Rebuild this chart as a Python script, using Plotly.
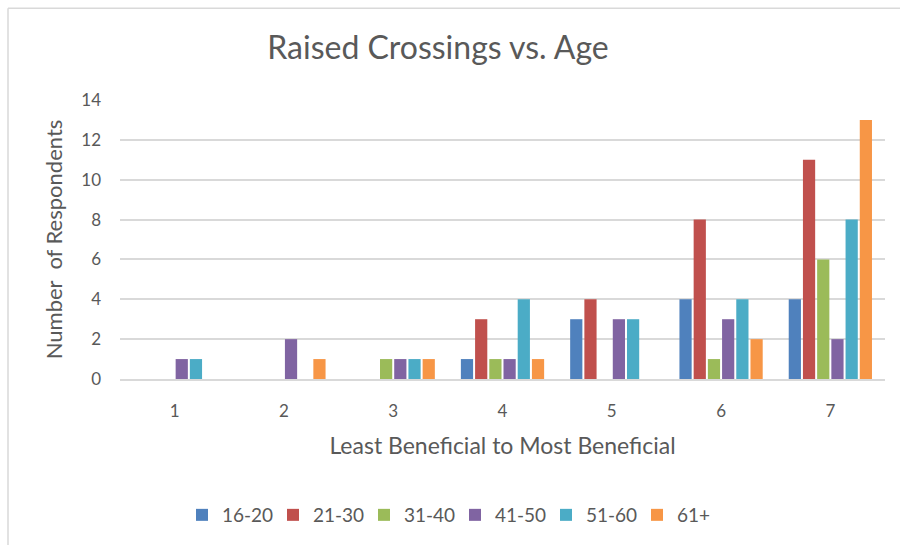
import plotly.graph_objects as go

# Rating scale (1 = least beneficial, 7 = most beneficial)
ratings = ["1", "2", "3", "4", "5", "6", "7"]

# Respondent counts per age group for each rating
age_16_20 = [0, 0, 0, 1, 3, 4, 4]
age_21_30 = [0, 0, 0, 3, 4, 8, 11]
age_31_40 = [0, 0, 1, 1, 0, 1, 6]
age_41_50 = [1, 2, 1, 1, 3, 3, 2]
age_51_60 = [1, 0, 1, 4, 3, 4, 8]
age_61_plus = [0, 1, 1, 1, 0, 2, 13]

series = [
    ("16-20", age_16_20, "#4F81BD"),
    ("21-30", age_21_30, "#C0504D"),
    ("31-40", age_31_40, "#9BBB59"),
    ("41-50", age_41_50, "#8064A2"),
    ("51-60", age_51_60, "#4BACC6"),
    ("61+", age_61_plus, "#F79646"),
]

FONT = "Lato, 'Open Sans', sans-serif"
GREY_TEXT = "#595959"

fig = go.Figure()
for name, values, color in series:
    fig.add_trace(go.Bar(
        name=name, x=ratings, y=values,
        marker=dict(color=color, line=dict(width=0)),
    ))

W, H = 900, 545
ML, MR, MT, MB = 120, 15, 100, 165
pw, ph = W - ML - MR, H - MT - MB

fig.update_layout(
    width=W, height=H,
    margin=dict(l=ML, r=MR, t=MT, b=MB),
    paper_bgcolor="white", plot_bgcolor="white",
    barmode="group", bargap=0.22, bargroupgap=0.14,
    font=dict(family=FONT, color=GREY_TEXT),
    title=dict(
        text="Raised Crossings vs. Age",
        font=dict(size=32, color=GREY_TEXT, family=FONT),
        xref="paper", x=(438 - ML) / pw, xanchor="center",
        yref="container", y=1 - 48 / H, yanchor="middle",
    ),
    xaxis=dict(
        type="category",
        tickfont=dict(size=17, color=GREY_TEXT),
        showgrid=False, ticks="", showline=True,
        linecolor="#D9D9D9", linewidth=1.5,
        ticklabelstandoff=16,
        title=dict(text="Least Beneficial to Most Beneficial",
                   font=dict(size=23, color=GREY_TEXT), standoff=18),
    ),
    yaxis=dict(
        range=[0, 14], dtick=2, tick0=0,
        tickfont=dict(size=17, color=GREY_TEXT),
        showgrid=True, gridcolor="#D9D9D9", gridwidth=1.5,
        zeroline=False, ticks="", ticklabelstandoff=18,
        title=dict(text="Number  of Respondents",
                   font=dict(size=22, color=GREY_TEXT), standoff=12),
    ),
    legend=dict(
        orientation="h", xref="paper", yref="paper",
        x=(455 - ML) / pw, xanchor="center",
        y=-(515 - MT - ph) / ph, yanchor="middle",
        font=dict(size=19, color=GREY_TEXT),
        itemwidth=30, traceorder="normal",
        entrywidth=46, entrywidthmode="pixels",
    ),
)

# Light frame along the top and left edges of the chart area
fx0 = (8 - ML) / pw
fy1 = 1 + (MT - 8) / ph
fig.add_shape(type="line", xref="paper", yref="paper",
              x0=fx0, x1=1 + MR / pw + 0.01, y0=fy1, y1=fy1,
              line=dict(color="#D9D9D9", width=1.5))
fig.add_shape(type="line", xref="paper", yref="paper",
              x0=fx0, x1=fx0, y0=fy1, y1=-MB / ph - 0.01,
              line=dict(color="#D9D9D9", width=1.5))

fig.write_html("out.html")
